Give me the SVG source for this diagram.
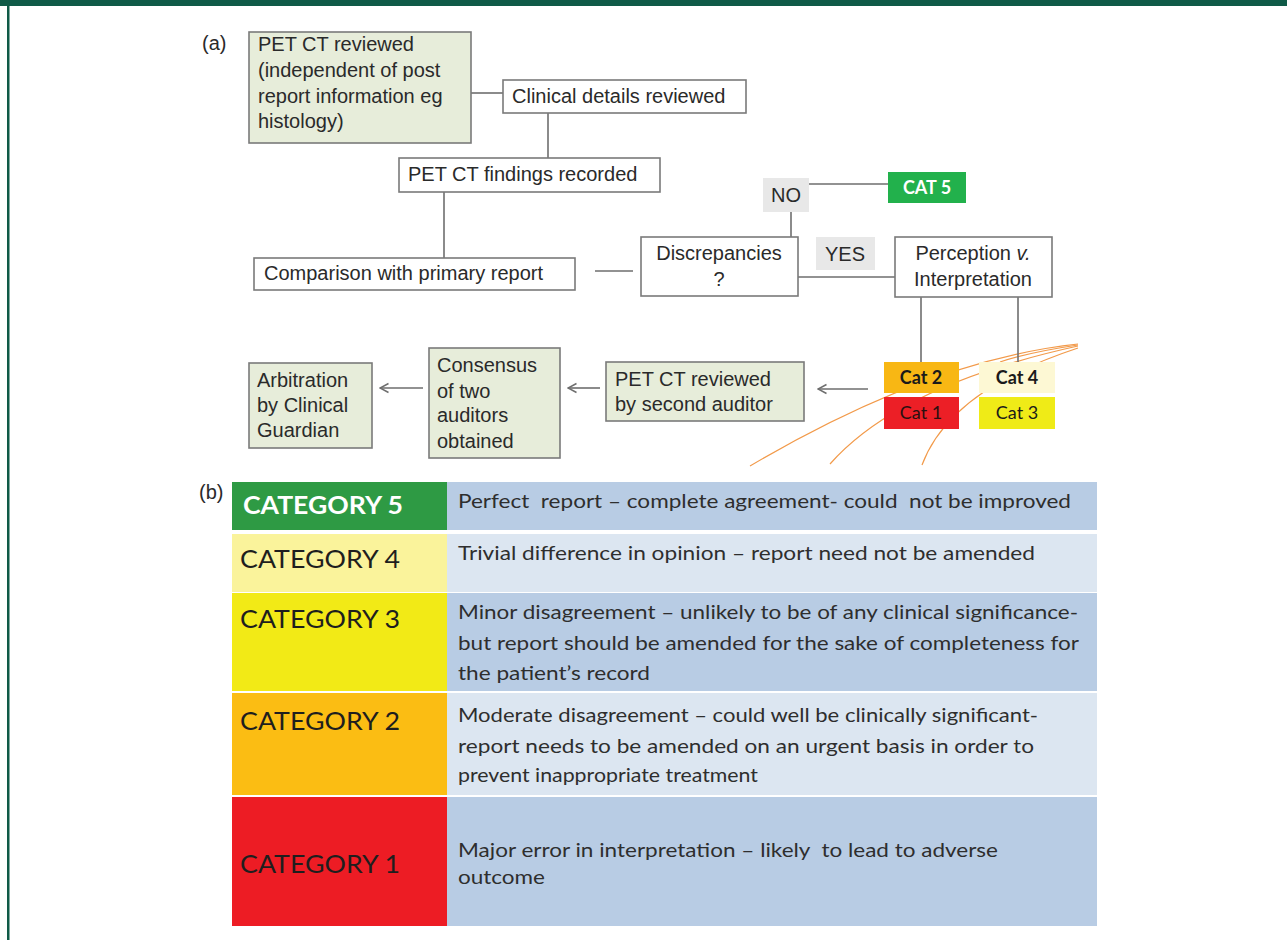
<svg xmlns="http://www.w3.org/2000/svg" width="1287" height="940" viewBox="0 0 1287 940">
<defs>
<style>
.box{fill:#fff;stroke:#7a7a7a;stroke-width:1.6}
.gbox{fill:#e7edda;stroke:#7a7a7a;stroke-width:1.6}
.lbl{fill:#e8e8e8}
.t{font-family:"Liberation Sans",Arial,sans-serif;font-size:20px;fill:#2a2a2a}
.tm{text-anchor:middle}
.c{font-family:Lato,"Open Sans",sans-serif;font-weight:bold;font-size:18px;fill:#1a1a1a;text-anchor:middle}
.ln{stroke:#6e6e6e;stroke-width:1.6;fill:none}
.or{stroke:#f29a4a;stroke-width:1.2;fill:none}
.cat{font-family:Lato,"Open Sans",sans-serif;font-size:25px;fill:#1e1e1e}
.d{font-family:Lato,"Open Sans",sans-serif;font-size:19px;fill:#2e2e2e}
</style>
<marker id="ah" viewBox="0 0 12 12" refX="10.5" refY="6" markerWidth="12" markerHeight="12" markerUnits="userSpaceOnUse" orient="auto">
<path d="M2,1.5 L10.5,6 L2,10.5" fill="none" stroke="#6e6e6e" stroke-width="1.5"/>
</marker>
</defs>
<rect x="0" y="0" width="1287" height="940" fill="#fff"/>
<rect x="0" y="0" width="1287" height="6" fill="#0f5a47"/>
<rect x="7" y="0" width="2.5" height="940" fill="#0f5a47"/>

<text class="t" x="202" y="50">(a)</text>
<text class="t" x="199" y="499">(b)</text>

<g id="orange-curves">
<path class="or" d="M1078,344 Q930,360 750,466"/>
<path class="or" d="M1078,346 Q900,385 830,464"/>
<path class="or" d="M1078,348 Q950,390 922,465"/>
<path class="or" d="M1078,345 Q1030,352 1000,362"/>
</g>

<g id="connectors">
<line class="ln" x1="471" y1="93" x2="503" y2="93"/>
<line class="ln" x1="548" y1="113" x2="548" y2="158"/>
<line class="ln" x1="444" y1="192" x2="444" y2="258"/>
<line class="ln" x1="595" y1="271" x2="633" y2="271"/>
<line class="ln" x1="791" y1="212" x2="791" y2="237"/>
<line class="ln" x1="809" y1="184" x2="888" y2="184"/>
<line class="ln" x1="798" y1="277" x2="895" y2="277"/>
<line class="ln" x1="921" y1="297" x2="921" y2="362"/>
<line class="ln" x1="1018" y1="297" x2="1018" y2="367"/>
<line class="ln" x1="868" y1="389" x2="818" y2="389" marker-end="url(#ah)"/>
<line class="ln" x1="600" y1="388" x2="568" y2="388" marker-end="url(#ah)"/>
<line class="ln" x1="423" y1="388" x2="380" y2="388" marker-end="url(#ah)"/>
</g>

<g id="pet-ct-reviewed">
<rect class="gbox" x="249" y="32" width="222" height="111"/>
<text class="t" x="258" y="51">PET CT reviewed</text>
<text class="t" x="258" y="77">(independent of post</text>
<text class="t" x="258" y="103">report information eg</text>
<text class="t" x="258" y="128">histology)</text>
</g>
<g id="clinical-details">
<rect class="box" x="503" y="80" width="243" height="33"/>
<text class="t" x="512" y="103">Clinical details reviewed</text>
</g>
<g id="findings-recorded">
<rect class="box" x="399" y="158" width="261" height="34"/>
<text class="t" x="408" y="181">PET CT findings recorded</text>
</g>
<g id="comparison">
<rect class="box" x="254" y="258" width="321" height="32"/>
<text class="t" x="264" y="280">Comparison with primary report</text>
</g>
<g id="discrepancies">
<rect class="box" x="641" y="237" width="157" height="59"/>
<text class="t tm" x="719" y="260">Discrepancies</text>
<text class="t tm" x="719" y="286">?</text>
</g>
<g id="no-label">
<rect class="lbl" x="763" y="178" width="46" height="34"/>
<text class="t tm" x="786" y="202">NO</text>
</g>
<g id="cat5-node">
<rect x="888" y="172" width="78" height="31" fill="#22b14c"/>
<text class="c" x="927" y="194" style="fill:#fff">CAT 5</text>
</g>
<g id="yes-label">
<rect class="lbl" x="816" y="237" width="59" height="33"/>
<text class="t tm" x="845" y="261">YES</text>
</g>
<g id="perception">
<rect class="box" x="895" y="237" width="157" height="60"/>
<text class="t tm" x="973" y="260">Perception <tspan font-style="italic">v.</tspan></text>
<text class="t tm" x="973" y="286">Interpretation</text>
</g>
<g id="cat2-node">
<rect x="884" y="362" width="75" height="31" fill="#f8b714"/>
<text class="c" x="921" y="384">Cat 2</text>
</g>
<g id="cat1-node">
<rect x="884" y="397" width="75" height="32" fill="#ec1f26"/>
<text class="c" x="921" y="419" style="font-weight:normal;fill:#2a1010">Cat 1</text>
</g>
<g id="cat4-node">
<rect x="979" y="362" width="76" height="31" fill="#fdf8d4"/>
<text class="c" x="1017" y="384">Cat 4</text>
</g>
<g id="cat3-node">
<rect x="979" y="397" width="76" height="32" fill="#efeb17"/>
<text class="c" x="1017" y="419" style="font-weight:normal">Cat 3</text>
</g>
<g id="second-auditor">
<rect class="gbox" x="606" y="362" width="198" height="59"/>
<text class="t" x="615" y="386">PET CT reviewed</text>
<text class="t" x="615" y="411">by second auditor</text>
</g>
<g id="consensus">
<rect class="gbox" x="429" y="348" width="131" height="110"/>
<text class="t" x="437" y="372">Consensus</text>
<text class="t" x="437" y="398">of two</text>
<text class="t" x="437" y="422">auditors</text>
<text class="t" x="437" y="448">obtained</text>
</g>
<g id="arbitration">
<rect class="gbox" x="249" y="363" width="123" height="85"/>
<text class="t" x="257" y="387">Arbitration</text>
<text class="t" x="257" y="412">by Clinical</text>
<text class="t" x="257" y="437">Guardian</text>
</g>

<g id="table">
<rect x="232" y="482" width="215" height="48" fill="#2e9a44"/>
<rect x="447" y="482" width="650" height="48" fill="#b8cce4"/>
<rect x="232" y="534" width="215" height="58" fill="#faf39b"/>
<rect x="447" y="534" width="650" height="58" fill="#dce6f1"/>
<rect x="232" y="593" width="215" height="98" fill="#f2ea16"/>
<rect x="447" y="593" width="650" height="98" fill="#b8cce4"/>
<rect x="232" y="693" width="215" height="102" fill="#fbbd13"/>
<rect x="447" y="693" width="650" height="102" fill="#dce6f1"/>
<rect x="232" y="797" width="215" height="129" fill="#ed1c24"/>
<rect x="447" y="797" width="650" height="129" fill="#b8cce4"/>

<text class="cat" x="243" y="514" textLength="160" lengthAdjust="spacingAndGlyphs" style="fill:#fff;font-weight:bold">CATEGORY 5</text>
<text class="cat" x="240" y="568" textLength="160" lengthAdjust="spacingAndGlyphs">CATEGORY 4</text>
<text class="cat" x="240" y="628" textLength="160" lengthAdjust="spacingAndGlyphs">CATEGORY 3</text>
<text class="cat" x="240" y="730" textLength="160" lengthAdjust="spacingAndGlyphs">CATEGORY 2</text>
<text class="cat" x="240" y="873" textLength="160" lengthAdjust="spacingAndGlyphs">CATEGORY 1</text>

<text class="d" x="458" y="508" textLength="613" lengthAdjust="spacingAndGlyphs" xml:space="preserve">Perfect  report – complete agreement- could  not be improved</text>
<text class="d" x="458" y="560" textLength="577" lengthAdjust="spacingAndGlyphs">Trivial difference in opinion – report need not be amended</text>
<text class="d" x="458" y="619" textLength="620" lengthAdjust="spacingAndGlyphs">Minor disagreement – unlikely to be of any clinical significance-</text>
<text class="d" x="458" y="650" textLength="621" lengthAdjust="spacingAndGlyphs">but report should be amended for the sake of completeness for</text>
<text class="d" x="458" y="680" textLength="192" lengthAdjust="spacingAndGlyphs">the patient’s record</text>
<text class="d" x="458" y="722" textLength="580" lengthAdjust="spacingAndGlyphs">Moderate disagreement – could well be clinically significant-</text>
<text class="d" x="458" y="753" textLength="576" lengthAdjust="spacingAndGlyphs">report needs to be amended on an urgent basis in order to</text>
<text class="d" x="458" y="782" textLength="300" lengthAdjust="spacingAndGlyphs">prevent inappropriate treatment</text>
<text class="d" x="458" y="857" textLength="540" lengthAdjust="spacingAndGlyphs" xml:space="preserve">Major error in interpretation – likely  to lead to adverse</text>
<text class="d" x="458" y="884" textLength="87" lengthAdjust="spacingAndGlyphs">outcome</text>
</g>
</svg>
